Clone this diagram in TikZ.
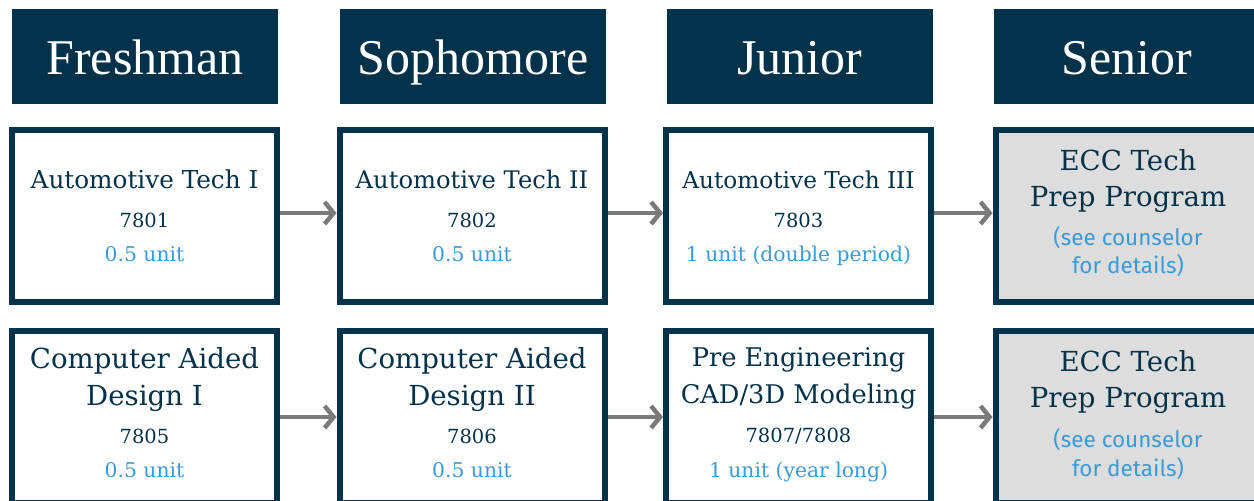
\documentclass[tikz,border=0pt]{standalone}
\usepackage{fontspec}
\setmainfont{DejaVu Serif}
\newfontfamily\hdfont{Liberation Serif}
\newfontfamily\sansf{Fira Sans}
\usetikzlibrary{arrows.meta}
\definecolor{navy}{RGB}{4,50,74}
\definecolor{lblue}{RGB}{58,155,216}
\definecolor{agray}{RGB}{122,122,122}
\definecolor{pgray}{RGB}{221,221,221}
\begin{document}
\begin{tikzpicture}[x=1pt,y=-1pt,
  hdr/.style={fill=navy,draw=none,minimum width=266pt,minimum height=95pt,inner sep=0},
  hdtext/.style={anchor=base,inner sep=0,text=white,font=\hdfont\fontsize{50}{50}\selectfont},
  cbox/.style={draw=navy,line width=6pt,fill=white,minimum width=265pt,minimum height=172pt,inner sep=0},
  gbox/.style={cbox,fill=pgray},
  ttlA/.style={anchor=base,inner sep=0,text=navy,font=\fontsize{24.7}{24.7}\selectfont},
  ttlB/.style={anchor=base,inner sep=0,text=navy,font=\fontsize{27.6}{27.6}\selectfont},
  fs/.style={font=\fontsize{#1}{#1}\selectfont},
  num/.style={anchor=base,inner sep=0,text=navy,font=\fontsize{19.5}{19.5}\selectfont},
  unit/.style={anchor=base,inner sep=0,text=lblue,font=\fontsize{20.3}{20.3}\selectfont},
  note/.style={anchor=base,inner sep=0,text=lblue,font=\sansf\fontsize{22.5}{22.5}\selectfont},
  conn/.style={draw=agray,line width=4.5pt,-{Straight Barb[length=9pt,width=22pt,line width=4.5pt]}}
]
\useasboundingbox (0,0) rectangle (1254,501);
\clip (0,0) rectangle (1254,501);

% headers
\node[hdr] (h1) at (145,56.5) {};
\node[hdr] (h2) at (473,56.5) {};
\node[hdr] (h3) at (799.5,56.5) {};
\node[hdr] (h4) at (1127,56.5) {};
\node[hdtext] (h1t) at (145,74) {Freshman};
\node[hdtext] (h2t) at (473,74) {Sophomore};
\node[hdtext] (h3t) at (799.5,74) {Junior};
\node[hdtext] (h4t) at (1127,74) {Senior};

% boxes row 1
\node[cbox] (b11) at (144.5,216) {};
\node[cbox] (b12) at (472,216) {};
\node[cbox] (b13) at (798.5,216) {};
\node[gbox] (b14) at (1128,216) {};
% boxes row 2
\node[cbox] (b21) at (144.5,417) {};
\node[cbox] (b22) at (472,417) {};
\node[cbox] (b23) at (798.5,417) {};
\node[gbox] (b24) at (1128,417) {};

% arrows
\draw[conn] (b11.east |- 0,213) coordinate (a1s) -- (b12.west |- 0,213) coordinate (a1e);
\draw[conn] (b12.east |- 0,213) coordinate (a2s) -- (b13.west |- 0,213) coordinate (a2e);
\draw[conn] (b13.east |- 0,213) coordinate (a3s) -- (b14.west |- 0,213) coordinate (a3e);
\draw[conn] (b21.east |- 0,417) coordinate (a4s) -- (b22.west |- 0,417) coordinate (a4e);
\draw[conn] (b22.east |- 0,417) coordinate (a5s) -- (b23.west |- 0,417) coordinate (a5e);
\draw[conn] (b23.east |- 0,417) coordinate (a6s) -- (b24.west |- 0,417) coordinate (a6e);

% row 1 texts
\node[ttlA] (t11a) at (144.5,188) {Automotive Tech I};
\node[num]  (t11b) at (144.5,227) {7801};
\node[unit] (t11c) at (144.5,261) {0.5 unit};
\node[ttlA,fs=24.2] (t12a) at (472,188) {Automotive Tech II};
\node[num]  (t12b) at (472,227) {7802};
\node[unit] (t12c) at (472,261) {0.5 unit};
\node[ttlA,fs=23.2] (t13a) at (798.5,188) {Automotive Tech III};
\node[num]  (t13b) at (798.5,227) {7803};
\node[unit] (t13c) at (798.5,261) {1 unit (double period)};
\node[ttlB] (t14a) at (1128,170) {ECC Tech};
\node[ttlB] (t14b) at (1128,206) {Prep Program};
\node[note] (t14c) at (1128,245) {(see counselor};
\node[note] (t14d) at (1128,273) {for details)};

% row 2 texts
\node[ttlB] (t21a) at (144.5,368) {Computer Aided};
\node[ttlB] (t21b) at (144.5,405) {Design I};
\node[num]  (t21c) at (144.5,443) {7805};
\node[unit] (t21d) at (144.5,477) {0.5 unit};
\node[ttlB] (t22a) at (472,368) {Computer Aided};
\node[ttlB] (t22b) at (472,405) {Design II};
\node[num]  (t22c) at (472,443) {7806};
\node[unit] (t22d) at (472,477) {0.5 unit};
\node[ttlB,fs=25.7] (t23a) at (798.5,366) {Pre Engineering};
\node[ttlB,fs=25.7] (t23b) at (798.5,403) {CAD/3D Modeling};
\node[num]  (t23c) at (798.5,442) {7807/7808};
\node[unit] (t23d) at (798.5,477) {1 unit (year long)};
\node[ttlB] (t24a) at (1128,371) {ECC Tech};
\node[ttlB] (t24b) at (1128,407) {Prep Program};
\node[note] (t24c) at (1128,447) {(see counselor};
\node[note] (t24d) at (1128,476) {for details)};
\end{tikzpicture}
\end{document}
